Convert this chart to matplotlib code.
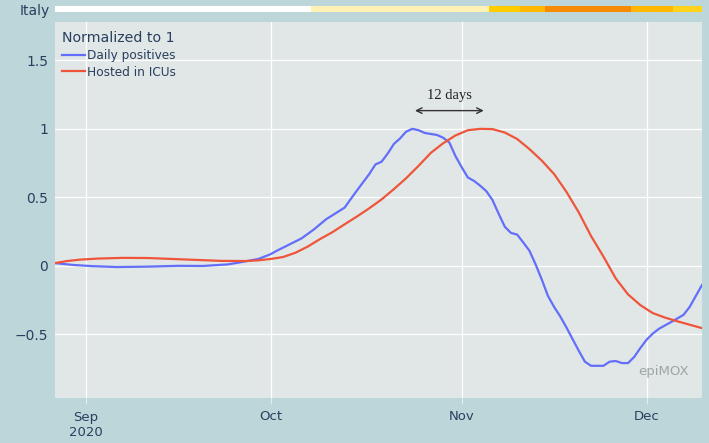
import pandas as pd
import matplotlib
matplotlib.use("Agg")
import matplotlib.pyplot as plt

# Daily positives (normalized to 1)
pos_dates = ["2020-08-27", "2020-08-30", "2020-09-02", "2020-09-06", "2020-09-11",
             "2020-09-16", "2020-09-20", "2020-09-24", "2020-09-26", "2020-09-29",
             "2020-10-01", "2020-10-02", "2020-10-04", "2020-10-06", "2020-10-08",
             "2020-10-10", "2020-10-13", "2020-10-15", "2020-10-17", "2020-10-18",
             "2020-10-19", "2020-10-20", "2020-10-21", "2020-10-22", "2020-10-23",
             "2020-10-24", "2020-10-25", "2020-10-26", "2020-10-28", "2020-10-29",
             "2020-10-30", "2020-10-31", "2020-11-01", "2020-11-02", "2020-11-03",
             "2020-11-04", "2020-11-05", "2020-11-06", "2020-11-07", "2020-11-08",
             "2020-11-09", "2020-11-10", "2020-11-11", "2020-11-12", "2020-11-13",
             "2020-11-14", "2020-11-15", "2020-11-16", "2020-11-17", "2020-11-18",
             "2020-11-19", "2020-11-20", "2020-11-21", "2020-11-22", "2020-11-24",
             "2020-11-25", "2020-11-26", "2020-11-27", "2020-11-28", "2020-11-29",
             "2020-11-30", "2020-12-01", "2020-12-02", "2020-12-03", "2020-12-05",
             "2020-12-07", "2020-12-08", "2020-12-09", "2020-12-10"]
pos_values = [0.02, 0.006, -0.002, -0.009, -0.006,
              0.0, -0.001, 0.01, 0.025, 0.05,
              0.085, 0.11, 0.155, 0.20, 0.265,
              0.34, 0.425, 0.55, 0.67, 0.74,
              0.76, 0.82, 0.89, 0.93, 0.98,
              1.0, 0.99, 0.97, 0.955, 0.935,
              0.90, 0.80, 0.72, 0.645, 0.62,
              0.585, 0.545, 0.48, 0.38, 0.285,
              0.24, 0.228, 0.17, 0.11, 0.01,
              -0.10, -0.22, -0.30, -0.37, -0.45,
              -0.535, -0.62, -0.70, -0.73, -0.73,
              -0.70, -0.695, -0.71, -0.71, -0.665,
              -0.60, -0.54, -0.495, -0.46, -0.41,
              -0.358, -0.30, -0.22, -0.14]

# Hosted in ICUs (normalized to 1)
icu_dates = ["2020-08-27", "2020-08-29", "2020-08-31", "2020-09-03", "2020-09-07",
             "2020-09-11", "2020-09-15", "2020-09-19", "2020-09-23", "2020-09-27",
             "2020-09-29", "2020-10-01", "2020-10-03", "2020-10-05", "2020-10-07",
             "2020-10-09", "2020-10-11", "2020-10-13", "2020-10-15", "2020-10-17",
             "2020-10-19", "2020-10-21", "2020-10-23", "2020-10-25", "2020-10-27",
             "2020-10-29", "2020-10-31", "2020-11-02", "2020-11-04", "2020-11-06",
             "2020-11-08", "2020-11-10", "2020-11-12", "2020-11-14", "2020-11-16",
             "2020-11-18", "2020-11-20", "2020-11-22", "2020-11-24", "2020-11-26",
             "2020-11-28", "2020-11-30", "2020-12-02", "2020-12-04", "2020-12-06",
             "2020-12-08", "2020-12-10"]
icu_values = [0.02, 0.035, 0.045, 0.053, 0.058,
              0.057, 0.05, 0.043, 0.036, 0.035,
              0.04, 0.05, 0.064, 0.095, 0.14,
              0.195, 0.245, 0.303, 0.36, 0.42,
              0.485, 0.56, 0.64, 0.73, 0.825,
              0.895, 0.952, 0.99, 1.0, 0.998,
              0.973, 0.926, 0.852, 0.768, 0.67,
              0.54, 0.39, 0.217, 0.068, -0.092,
              -0.209, -0.287, -0.345, -0.378, -0.405,
              -0.43, -0.455]

# risk colour strip on top
strip_edges = ["2020-08-27 00:00", "2020-10-07 12:00", "2020-11-05 12:00", "2020-11-10 12:00",
               "2020-11-14 12:00", "2020-11-28 12:00", "2020-12-05 06:00", "2020-12-10 00:00"]
strip_colors = ["#ffffff", "#fff1b3", "#ffcc00", "#ffb703", "#f78b06", "#ffb703", "#ffd21c"]

x_ticks = ["2020-09-01", "2020-10-01", "2020-11-01", "2020-12-01"]
x_tick_labels = ["Sep\n2020", "Oct", "Nov", "Dec"]
y_ticks = [-0.5, 0, 0.5, 1, 1.5]
y_tick_labels = ["\u22120.5", "0", "0.5", "1", "1.5"]

arrow_start, arrow_end = "2020-10-24 10:00", "2020-11-04 14:00"

text_col = "#2a3f5f"
bg_out = "#bcd6d9"
bg_plot = "#e0e7e6"
x_range = (pd.Timestamp("2020-08-27"), pd.Timestamp("2020-12-10"))

fig = plt.figure(figsize=(7.09, 4.43), dpi=100, facecolor=bg_out)
ax = fig.add_axes([55 / 709, 45 / 443, 647 / 709, 376 / 443])
ax.set_facecolor(bg_plot)

l1, = ax.plot(pd.to_datetime(pos_dates), pos_values, color="#636efa", lw=1.6,
              label="Daily positives")
l2, = ax.plot(pd.to_datetime(icu_dates), icu_values, color="#ef553b", lw=1.6,
              label="Hosted in ICUs")

ax.set_xlim(*x_range)
ax.set_ylim(-0.965, 1.78)
ax.set_xticks(pd.to_datetime(x_ticks))
ax.set_xticklabels(x_tick_labels)
ax.set_yticks(y_ticks)
ax.set_yticklabels(y_tick_labels)
ax.grid(True, color="white", lw=0.9)
ax.set_axisbelow(True)
for s in ax.spines.values():
    s.set_visible(False)
ax.tick_params(axis="x", colors="#e8eeee", length=4, width=0.8, pad=5,
               labelcolor=text_col, labelsize=9.5)
ax.tick_params(axis="y", length=0, pad=5, labelcolor=text_col, labelsize=10)

leg = ax.legend(handles=[l1, l2], title="Normalized to 1", loc="upper left",
                bbox_to_anchor=(0.011, 0.975), frameon=False, borderpad=0,
                borderaxespad=0, handlelength=1.9, handletextpad=0.15,
                labelspacing=0.3, fontsize=8.7, alignment="left")
leg.get_title().set_fontsize(10.2)
leg.get_title().set_color(text_col)
for t in leg.get_texts():
    t.set_color(text_col)

# 12 days annotation
ax.annotate("", xy=(pd.Timestamp(arrow_start), 1.133), xytext=(pd.Timestamp(arrow_end), 1.133),
            arrowprops=dict(arrowstyle="<->", color="#333333", lw=1.0,
                            shrinkA=0, shrinkB=0))
mid = pd.Timestamp(arrow_start) + (pd.Timestamp(arrow_end) - pd.Timestamp(arrow_start)) / 2
ax.text(mid, 1.24, "12 days", ha="center", va="center", fontsize=10.5,
        family="Liberation Serif", color="#222222")

ax.text(0.98, 0.07, "epiMOX", transform=ax.transAxes, ha="right", va="center",
        fontsize=9.5, color="#a0a4a6")

# top colour strip
sax = fig.add_axes([55 / 709, 431 / 443, 647 / 709, 6 / 443])
edges = pd.to_datetime(strip_edges)
for i, c in enumerate(strip_colors):
    sax.axvspan(edges[i], edges[i + 1], color=c, lw=0)
sax.set_xlim(*x_range)
sax.axis("off")

fig.text(50 / 709, 1 - 10.5 / 443, "Italy", ha="right", va="center",
         fontsize=10, color=text_col)

fig.savefig("out.png", dpi=100, facecolor=bg_out)
